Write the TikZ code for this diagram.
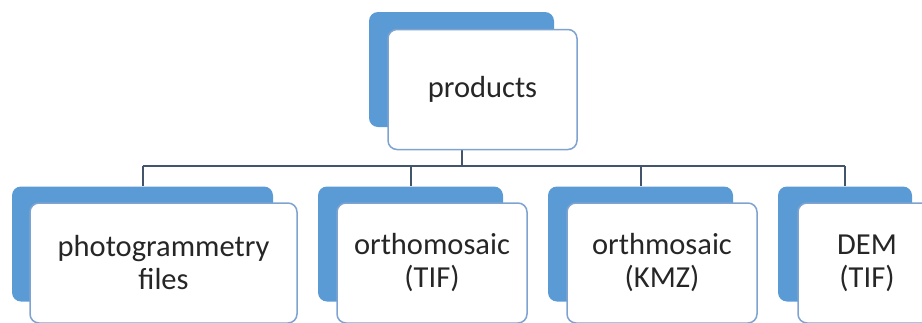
\documentclass[tikz,border=0pt]{standalone}
\usepackage{fontspec}
\setmainfont{Carlito}
\usetikzlibrary{backgrounds}
\definecolor{backblue}{HTML}{5B9BD5}
\definecolor{frontline}{HTML}{7FA3D1}
\definecolor{busline}{HTML}{44546A}
\begin{document}
\begin{tikzpicture}[x=1pt,y=-1pt]
\tikzset{
    back/.style={draw=none, fill=backblue, rounded corners=9pt, minimum width=#1, minimum height=115pt, inner sep=0pt},
    front/.style={draw=frontline, line width=1.5pt, fill=white, rounded corners=9pt, minimum width=#1, minimum height=120pt, inner sep=0pt, align=center, text=black!85, font=\fontsize{30.5}{33}\selectfont},
    bus/.style={draw=busline, line width=2pt}
}
\useasboundingbox (0,0) rectangle (922,322);

\draw node[back=185pt] (products-back) at (461.5,69.5) {};
\draw node[front=189pt] (products) at (482.5,89.5) {products};

\draw node[back=261pt] (photo-back) at (142.5,244) {};
\draw node[front=267pt] (photo) at (163.5,263) {photogrammetry\\files};
\draw node[back=185pt] (orthotif-back) at (410.5,244) {};
\draw node[front=190pt] (orthotif) at (432,263) {orthomosaic\\(TIF)};
\draw node[back=185pt] (orthokmz-back) at (640.5,244) {};
\draw node[front=190pt] (orthokmz) at (662,263) {orthmosaic\\(KMZ)};
\draw node[back=134pt] (dem-back) at (845,244) {};
\draw node[front=138pt] (dem) at (867,263) {DEM\\(TIF)};

\begin{pgfonlayer}{background}
\coordinate (bus) at (461,166);
\draw[bus] (products-back) -- (products-back |- bus);
\draw[bus] (photo-back |- bus) -- (dem-back |- bus);
\foreach \x in {photo,orthotif,orthokmz,dem}{
\draw[bus] (\x-back |- bus) -- (\x-back);
}
\end{pgfonlayer}
\end{tikzpicture}
\end{document}
